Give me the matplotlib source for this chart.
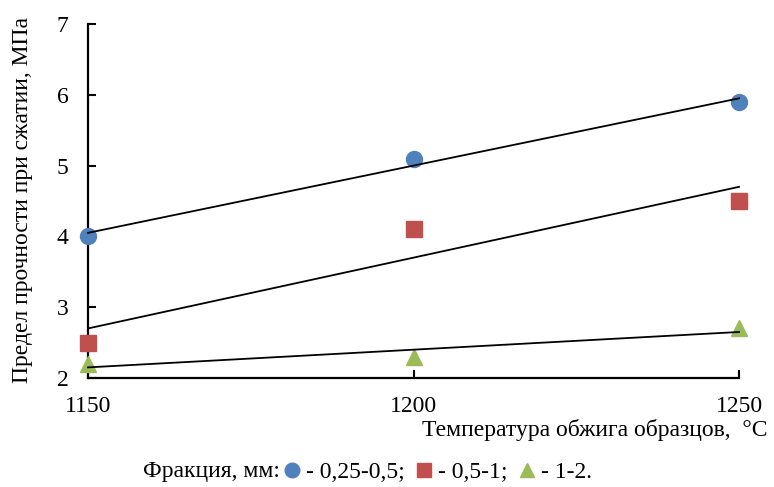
import numpy as np
import matplotlib
matplotlib.use("Agg")
import matplotlib.pyplot as plt
from matplotlib.lines import Line2D

plt.rcParams['font.family'] = ['Liberation Serif', 'DejaVu Serif']

# data
temps = [1150, 1200, 1250]
frac_a = [4.0, 5.1, 5.9]   # 0,25-0,5
frac_b = [2.5, 4.1, 4.5]   # 0,5-1
frac_c = [2.2, 2.3, 2.7]   # 1-2
x_ticks = [1150, 1200, 1250]
y_ticks = [2, 3, 4, 5, 6, 7]
labels = ['- 0,25-0,5;', '- 0,5-1;', '- 1-2.']

colors = ['#4F81BD', '#C0504D', '#9BBB59']
markers = ['o', 's', '^']

fig = plt.figure(figsize=(7.74, 4.87), dpi=100)
ax = fig.add_axes([88/774, 1-378/487, (739-88)/774, (378-24)/487])

handles = []
for vals, c, m, lab in zip([frac_a, frac_b, frac_c], colors, markers, labels):
    ax.plot(temps, vals, linestyle='none', marker=m, color=c,
            markersize=11.5 if m != '^' else 12, clip_on=False, zorder=3)
    # linear trendline
    k, b = np.polyfit(temps, vals, 1)
    xs = np.array([temps[0], temps[-1]])
    ax.plot(xs, k*xs + b, color='black', lw=1.3, zorder=4, clip_on=False)
    handles.append(Line2D([], [], linestyle='none', marker=m, color=c,
                          markersize=10.5, label=lab))

ax.set_xlim(1150, 1250)
ax.set_ylim(2, 7)
ax.set_xticks(x_ticks)
ax.set_yticks(y_ticks)
ax.tick_params(direction='in', length=6, width=1.5, labelsize=17)
ax.tick_params(axis='x', pad=13)
ax.tick_params(axis='y', pad=14)
for s in ['top', 'right']:
    ax.spines[s].set_visible(False)
for s in ['left', 'bottom']:
    ax.spines[s].set_linewidth(1.6)

fig.text(23/774, 1-200/487, 'Предел прочности при сжатии, МПа',
         rotation=90, ha='center', va='center', fontsize=17)
fig.text(768/774, 1-430/487, 'Температура обжига образцов,  °C',
         ha='right', va='center', fontsize=17)

fig.text(143/774, 1-472/487, 'Фракция, мм:', ha='left', va='center',
         fontsize=17)
fig.legend(handles=handles, loc='center left', ncol=3, frameon=False,
           bbox_to_anchor=(278/774, 1-472/487), fontsize=17,
           handletextpad=0.0, columnspacing=0.2, handlelength=1.2,
           borderaxespad=0, borderpad=0)

fig.savefig('out.png', dpi=100)
